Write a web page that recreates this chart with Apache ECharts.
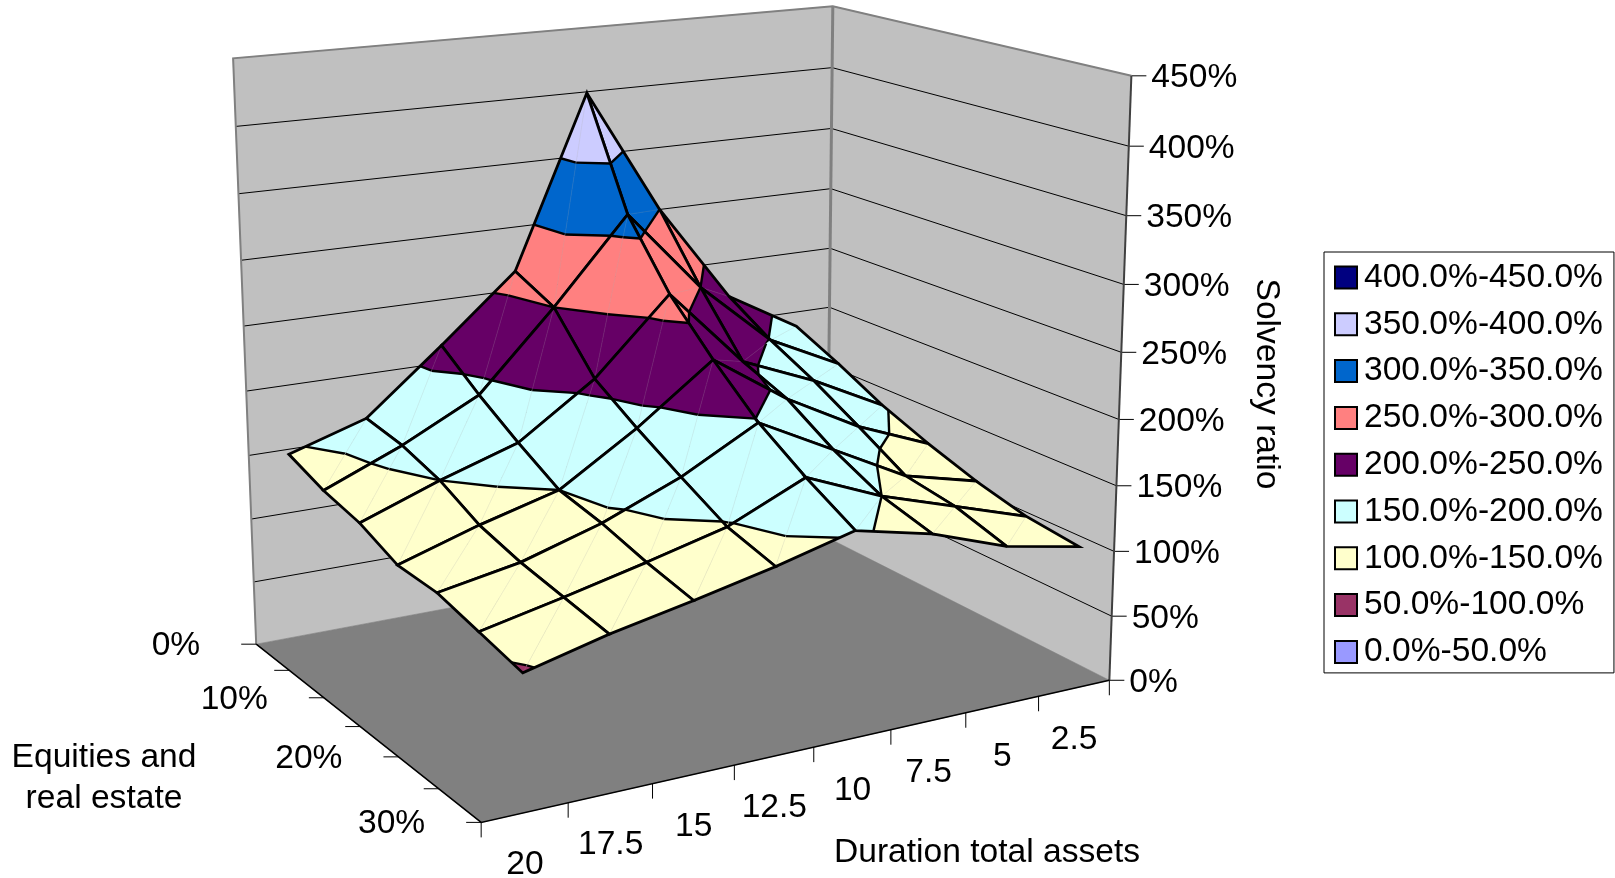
<!DOCTYPE html>
<html lang="en" style="height: 100%">

<head>
  <meta charset="utf-8">
</head>

<body style="height: 100%; margin: 0; background: #fff;">
  <div id="container" style="width: 1615px; height: 878px;"></div>

  <script type="text/javascript" src="https://cdn.jsdelivr.net/npm/echarts@6/dist/echarts.min.js"></script>

  <script type="text/javascript">
    // chart values, one row per equity share, duration running 20 -> 2.5
    var durations = ['20', '17.5', '15', '12.5', '10', '7.5', '5', '2.5'];
    var equities = ['0%', '5%', '10%', '15%', '20%', '25%', '30%'];
    var ratioTicks = [0, 50, 100, 150, 200, 250, 300, 350, 400, 450];
    var eq0 = [146, 165, 214, 265, 399, 300, 221, 188];
    var eq5 = [135, 160, 190, 250, 315, 250, 199, 171];
    var eq10 = [128, 150, 169, 209, 266, 205, 181, 152];
    var eq15 = [115, 134, 150, 187, 230, 191, 160, 137];
    var eq20 = [114, 125, 143, 167, 198, 168, 138, 124];
    var eq25 = [106, 119, 133, 148, 174, 150, 132, 114];
    var eq30 = [98, 113, 125, 138, 153, 140, 120, 109];
    var rows = [eq0, eq5, eq10, eq15, eq20, eq25, eq30];

    var bandNames = ['400.0%-450.0%', '350.0%-400.0%', '300.0%-350.0%', '250.0%-300.0%', '200.0%-250.0%',
      '150.0%-200.0%', '100.0%-150.0%', '50.0%-100.0%', '0.0%-50.0%'];
    var bandColors = ['#000080', '#CCCCFF', '#0066CC', '#FF8080', '#660066', '#CCFFFF', '#FFFFCC', '#993366', '#9999FF'];

    var FONT = '33.6px "Liberation Sans", Arial, sans-serif';

    // where the box corners sit on the page: [duration bin/8, equity step/6, ratio/450, px, py]
    var anchors = [
      [0, 0, 0, 255, 645], [0, 0, 1, 233, 58], [1, 0, 0, 829, 536], [1, 0, 1, 831, 7],
      [1, 1, 0, 1108, 681], [1, 1, 1, 1133, 75], [0, 1, 0, 482, 821], [0.5, 1, 0, 813, 748],
      [0, 1 / 3, 0, 323, 698], [0, 2 / 3, 0, 399, 757], [0, 0, 5 / 9, 245, 326], [1, 1, 7 / 9, 1126, 216]
    ];

    // least squares fit of the perspective matrix
    function fitCamera() {
      var n = 11, ata = [], atb = [], i, r, c;
      for (i = 0; i < n; i++) { ata.push(new Array(n).fill(0)); atb.push(0); }
      function add(row, b) {
        for (r = 0; r < n; r++) {
          atb[r] += row[r] * b;
          for (c = 0; c < n; c++) ata[r][c] += row[r] * row[c];
        }
      }
      anchors.forEach(function (a) {
        add([a[0], a[1], a[2], 1, 0, 0, 0, 0, -a[3] * a[0], -a[3] * a[1], -a[3] * a[2]], a[3]);
        add([0, 0, 0, 0, a[0], a[1], a[2], 1, -a[4] * a[0], -a[4] * a[1], -a[4] * a[2]], a[4]);
      });
      for (c = 0; c < n; c++) {
        var p = c;
        for (r = c + 1; r < n; r++) if (Math.abs(ata[r][c]) > Math.abs(ata[p][c])) p = r;
        var t = ata[c]; ata[c] = ata[p]; ata[p] = t;
        t = atb[c]; atb[c] = atb[p]; atb[p] = t;
        for (r = 0; r < n; r++) {
          if (r === c) continue;
          var f = ata[r][c] / ata[c][c];
          for (i = c; i < n; i++) ata[r][i] -= f * ata[c][i];
          atb[r] -= f * atb[c];
        }
      }
      return atb.map(function (v, k) { return v / ata[k][k]; });
    }
    var cam = fitCamera();

    // u in duration bins (0-8), v in equity steps (0-6), w in percent
    function project(u, v, w) {
      var U = u / 8, V = v / 6, W = w / 450;
      var d = cam[8] * U + cam[9] * V + cam[10] * W + 1;
      return [
        (cam[0] * U + cam[1] * V + cam[2] * W + cam[3]) / d,
        (cam[4] * U + cam[5] * V + cam[6] * W + cam[7]) / d
      ];
    }

    function polygon(api, pts, fill, stroke, lw) {
      return {
        type: 'polygon',
        shape: { points: pts.map(function (p) { return api.coord(p); }) },
        style: { fill: fill, stroke: stroke || fill, lineWidth: lw === undefined ? 0.6 : lw, lineJoin: 'miter', miterLimit: 4 }
      };
    }
    function line(api, pts, color, lw) {
      return {
        type: 'polyline',
        shape: { points: pts.map(function (p) { return api.coord(p); }) },
        style: { fill: null, stroke: color, lineWidth: lw, lineCap: 'butt', lineJoin: 'miter', miterLimit: 4 }
      };
    }
    function label(api, text, x, y, align, rotation) {
      var c = api.coord([x, y]);
      return {
        type: 'text', x: c[0], y: c[1], rotation: rotation || 0,
        style: { text: text, x: 0, y: 0, font: FONT, fill: '#000', align: align, verticalAlign: 'middle' }
      };
    }

    function renderBox(params, api) {
      var ch = [];
      var l0 = project(0, 0, 0), l1 = project(0, 0, 450), b0 = project(8, 0, 0), b1 = project(8, 0, 450);
      var r0 = project(8, 6, 0), r1 = project(8, 6, 450), f0 = project(0, 6, 0);
      ch.push(polygon(api, [l0, l1, b1, b0], '#C0C0C0'));
      ch.push(polygon(api, [b0, b1, r1, r0], '#C0C0C0'));
      ch.push(polygon(api, [l0, b0, r0, f0], '#808080'));

      ratioTicks.forEach(function (t) {
        var a = project(0, 0, t), b = project(8, 0, t), c = project(8, 6, t);
        if (t > 0 && t < 450) ch.push(line(api, [a, b, c], '#000', 1));
        ch.push(line(api, [c, [c[0] + 15, c[1]]], '#000', 1));
        ch.push(label(api, t + '%', c[0] + 20, c[1] + 2.2, 'left'));
      });

      ch.push(line(api, [l0, l1, b1, r1], '#808080', 2));
      ch.push(line(api, [b0, b1], '#808080', 3));
      ch.push(line(api, [r1, r0], '#404040', 2));
      ch.push(line(api, [l0, f0, r0], '#000', 1.5));

      equities.forEach(function (name, j) {
        var p = project(0, j, 0);
        ch.push(line(api, [p, [p[0] - 15, p[1]]], '#000', 1));
        if (j % 2 === 0) ch.push(label(api, name, p[0] - 56, p[1] + 1.5, 'right'));
      });
      for (var i = 0; i <= durations.length; i++) {
        var q = project(i, 6, 0);
        ch.push(line(api, [q, [q[0], q[1] + 15]], '#000', 1));
      }
      durations.forEach(function (name, k) {
        var p = project(k + 0.5, 6, 0);
        ch.push(label(api, name, p[0], p[1] + 52, 'center'));
      });

      ch.push(label(api, 'Equities and', 104, 758, 'center'));
      ch.push(label(api, 'real estate', 104, 799, 'center'));
      ch.push(label(api, 'Duration total assets', 987, 852.5, 'center'));
      ch.push(label(api, 'Solvency ratio', 1266, 384, 'center', -Math.PI / 2));
      return { type: 'group', children: ch };
    }

    function clip(poly, level, above) {
      var out = [];
      for (var i = 0; i < poly.length; i++) {
        var a = poly[i], b = poly[(i + 1) % poly.length];
        var ina = above ? a[2] >= level : a[2] <= level;
        var inb = above ? b[2] >= level : b[2] <= level;
        if (ina) out.push(a);
        if (ina !== inb) {
          var t = (level - a[2]) / (b[2] - a[2]);
          out.push([a[0] + t * (b[0] - a[0]), a[1] + t * (b[1] - a[1]), level]);
        }
      }
      return out;
    }

    function toPage(p) { return project(p[0], p[1], p[2]); }

    function drawTriangle(api, tri, ch) {
      ratioTicks.slice(0, -1).forEach(function (lo, b) {
        var part = clip(clip(tri, lo, true), ratioTicks[b + 1], false);
        if (part.length > 2) ch.push(polygon(api, part.map(toPage), bandColors[8 - b]));
      });
      // band boundaries across the triangle, nudged so a vertex sitting on a level still counts
      ratioTicks.forEach(function (tick) {
        var level = tick + 0.01, hits = [];
        for (var e = 0; e < 3; e++) {
          var a = tri[e], b = tri[(e + 1) % 3];
          if ((a[2] - level) * (b[2] - level) < 0) {
            var t = (level - a[2]) / (b[2] - a[2]);
            hits.push(project(a[0] + t * (b[0] - a[0]), a[1] + t * (b[1] - a[1]), level));
          }
        }
        if (hits.length === 2) ch.push(line(api, hits, '#000', 2.4));
      });
    }

    function renderCell(params, api) {
      var i = api.value(0), j = api.value(1), ch = [];
      var p00 = [i + 0.5, j, rows[j][i]], p10 = [i + 1.5, j, rows[j][i + 1]];
      var p11 = [i + 1.5, j + 1, rows[j + 1][i + 1]], p01 = [i + 0.5, j + 1, rows[j + 1][i]];
      // each cell is split along the same diagonal, which shows as a faint seam
      drawTriangle(api, [p00, p10, p01], ch);
      drawTriangle(api, [p10, p11, p01], ch);
      ch.push(line(api, [toPage(p10), toPage(p01)], 'rgba(170,170,170,0.35)', 0.5));
      ch.push(polygon(api, [p00, p10, p11, p01].map(toPage), 'none', '#000', 2.8));
      return { type: 'group', children: ch };
    }

    // back of the surface first so the front covers it
    var cells = [];
    for (var j = 0; j < rows.length - 1; j++) {
      for (var i = durations.length - 2; i >= 0; i--) cells.push([i, j]);
    }

    var series = [
      { type: 'custom', name: 'box', data: [[0, 0]], renderItem: renderBox, silent: true, clip: false },
      { type: 'custom', name: 'Solvency ratio', data: cells, renderItem: renderCell, silent: true, clip: false }
    ];
    bandNames.forEach(function (name, k) {
      series.push({
        type: 'custom', name: name, data: [], itemStyle: { color: bandColors[k] },
        renderItem: function () { return { type: 'group', children: [] }; }
      });
    });

    var dom = document.getElementById('container');
    var myChart = echarts.init(dom, null, { renderer: 'canvas' });
    var option = {
      animation: false,
      grid: { left: 0, right: 0, top: 0, bottom: 0 },
      xAxis: { type: 'value', min: 0, max: 1615, show: false },
      yAxis: { type: 'value', min: 0, max: 878, inverse: true, show: false },
      legend: {
        data: bandNames,
        orient: 'vertical',
        left: 1324,
        top: 252,
        icon: 'rect',
        itemWidth: 22,
        itemHeight: 22,
        itemGap: 12.8,
        padding: [8.5, 11, 4, 10],
        selectedMode: false,
        backgroundColor: '#fff',
        borderColor: '#000',
        borderWidth: 1,
        itemStyle: { borderColor: '#000', borderWidth: 2 },
        textStyle: { fontFamily: '"Liberation Sans", Arial, sans-serif', fontSize: 33.6, color: '#000', padding: [0, 0, 0, 2] }
      },
      series: series
    };
    myChart.setOption(option);
    window.addEventListener('resize', myChart.resize);
  </script>
</body>

</html>
